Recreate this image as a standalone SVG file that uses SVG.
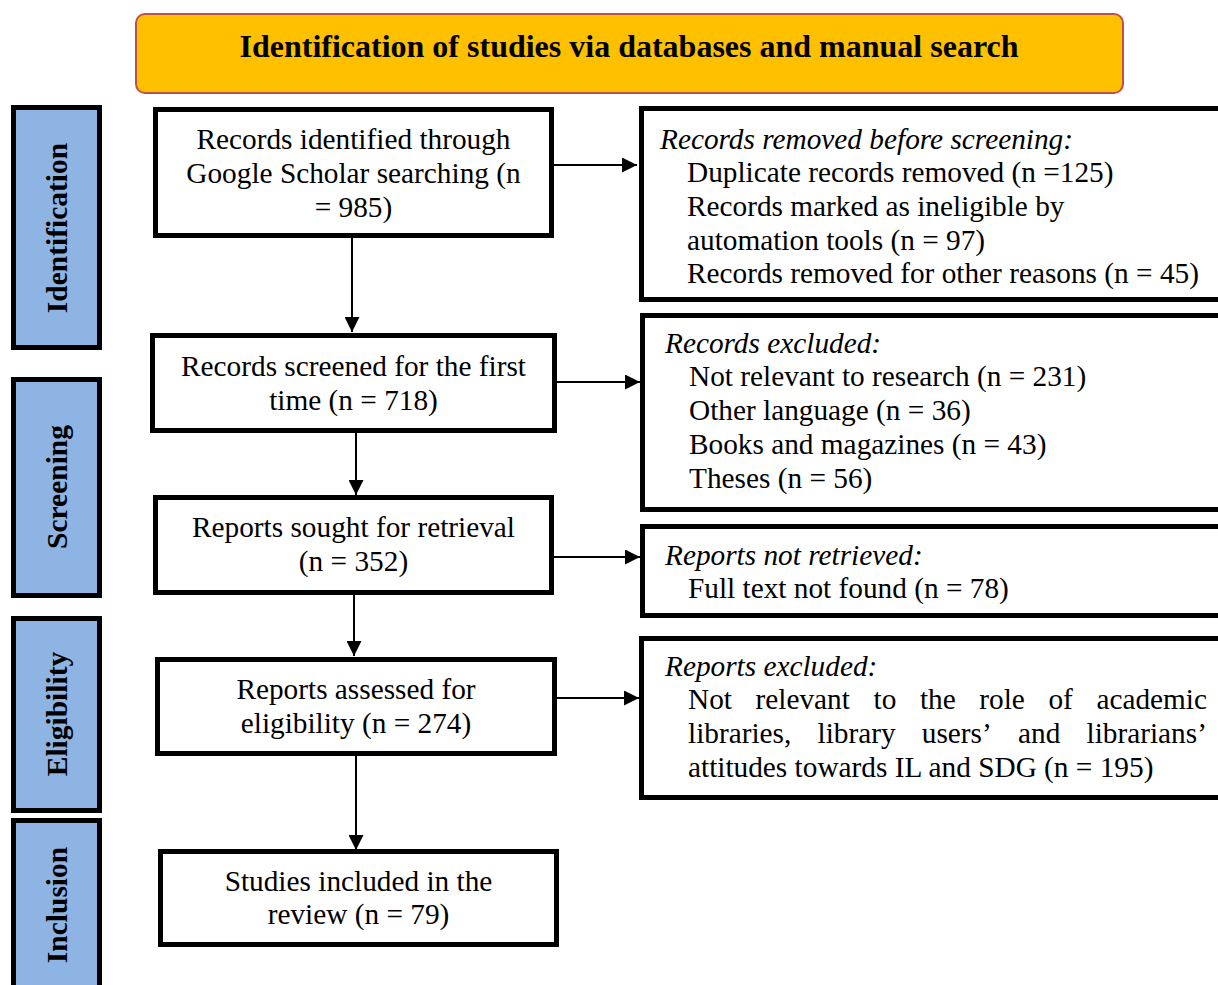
<svg xmlns="http://www.w3.org/2000/svg" width="1218" height="985" viewBox="0 0 1218 985">
<defs>
<marker id="ah" viewBox="0 0 15 15" refX="15" refY="7.5" markerWidth="15" markerHeight="15" markerUnits="userSpaceOnUse" orient="auto">
<path d="M0,0 L15,7.5 L0,15 Z" fill="#000"/>
</marker>
<style>
.box{fill:#fff;stroke:#000;stroke-width:5}
.side{fill:#8EB4E3;stroke:#000;stroke-width:5}
.t{font-family:"Liberation Serif","Times New Roman",serif;font-size:29.3px;fill:#000}
.c{text-anchor:middle}
.i{font-style:italic}
.b{font-weight:bold}
.sl{font-family:"Liberation Serif","Times New Roman",serif;font-size:29.5px;font-weight:bold;text-anchor:middle;fill:#000}
.ln{stroke:#000;stroke-width:2;fill:none;marker-end:url(#ah)}
</style>
</defs>
<rect width="1218" height="985" fill="#fff"/>

<g id="header">
<rect x="136" y="14" width="987" height="79" rx="9" ry="9" fill="#FFC000" stroke="#C0504D" stroke-width="2"/>
<text class="t b c" x="629" y="57" style="font-size:32px">Identification of studies via databases and manual search</text>
</g>

<g id="side-identification">
<rect class="side" x="13.5" y="107.5" width="86" height="240"/>
<text class="sl" transform="translate(67,228) rotate(-90)">Identification</text>
</g>
<g id="side-screening">
<rect class="side" x="13.5" y="379.5" width="86" height="216"/>
<text class="sl" transform="translate(67,487) rotate(-90)">Screening</text>
</g>
<g id="side-eligibility">
<rect class="side" x="13.5" y="618.5" width="86" height="192"/>
<text class="sl" transform="translate(67,714) rotate(-90)">Eligibility</text>
</g>
<g id="side-inclusion">
<rect class="side" x="13.5" y="820.5" width="86" height="180"/>
<text class="sl" transform="translate(67,905) rotate(-90)">Inclusion</text>
</g>

<g id="box-identified">
<rect class="box" x="155.5" y="109.5" width="396" height="126"/>
<text class="t c" x="353.5" y="149">Records identified through</text>
<text class="t c" x="353.5" y="183">Google Scholar searching (n</text>
<text class="t c" x="353.5" y="217">= 985)</text>
</g>
<g id="box-screened">
<rect class="box" x="152.5" y="335.5" width="402" height="95"/>
<text class="t c" x="353.5" y="376">Records screened for the first</text>
<text class="t c" x="353.5" y="410">time (n = 718)</text>
</g>
<g id="box-sought">
<rect class="box" x="155.5" y="497.5" width="396" height="95"/>
<text class="t c" x="353.5" y="537">Reports sought for retrieval</text>
<text class="t c" x="353.5" y="571">(n = 352)</text>
</g>
<g id="box-assessed">
<rect class="box" x="157.5" y="659.5" width="397" height="94"/>
<text class="t c" x="356" y="699">Reports assessed for</text>
<text class="t c" x="356" y="733">eligibility (n = 274)</text>
</g>
<g id="box-included">
<rect class="box" x="160.5" y="851.5" width="396" height="93"/>
<text class="t c" x="358.5" y="891">Studies included in the</text>
<text class="t c" x="358.5" y="924">review (n = 79)</text>
</g>

<g id="box-removed">
<rect class="box" x="641.5" y="108.5" width="600" height="191"/>
<text class="t i" x="660" y="149">Records removed before screening:</text>
<text class="t" x="687" y="182">Duplicate records removed (n =125)</text>
<text class="t" x="687" y="216">Records marked as ineligible by</text>
<text class="t" x="687" y="250">automation tools (n = 97)</text>
<text class="t" x="687" y="283">Records removed for other reasons (n = 45)</text>
</g>
<g id="box-excluded">
<rect class="box" x="642.5" y="315.5" width="600" height="194"/>
<text class="t i" x="665" y="353">Records excluded:</text>
<text class="t" x="689" y="386">Not relevant to research (n = 231)</text>
<text class="t" x="689" y="420">Other language (n = 36)</text>
<text class="t" x="689" y="454">Books and magazines (n = 43)</text>
<text class="t" x="689" y="488">Theses (n = 56)</text>
</g>
<g id="box-not-retrieved">
<rect class="box" x="642.5" y="526.5" width="600" height="89"/>
<text class="t i" x="665" y="565">Reports not retrieved:</text>
<text class="t" x="688" y="598">Full text not found (n = 78)</text>
</g>
<g id="box-reports-excluded">
<rect class="box" x="641.5" y="638.5" width="600" height="159"/>
<text class="t i" x="665" y="676">Reports excluded:</text>
<text class="t" y="709"><tspan x="688">Not</tspan><tspan x="755.5">relevant</tspan><tspan x="873.5">to</tspan><tspan x="919.9">the</tspan><tspan x="979.3">role</tspan><tspan x="1048.4">of</tspan><tspan x="1096.4">academic</tspan></text>
<text class="t" y="743"><tspan x="688">libraries,</tspan><tspan x="817.5">library</tspan><tspan x="921.8">users’</tspan><tspan x="1018">and</tspan><tspan x="1086.5">librarians’</tspan></text>
<text class="t" x="688" y="777">attitudes towards IL and SDG (n = 195)</text>
</g>

<g id="connectors">
<line class="ln" x1="352" y1="238" x2="352" y2="332"/>
<line class="ln" x1="356" y1="433" x2="356" y2="495"/>
<line class="ln" x1="354" y1="595" x2="354" y2="656"/>
<line class="ln" x1="356" y1="756" x2="356" y2="850"/>
<line class="ln" x1="554" y1="165" x2="637" y2="165"/>
<line class="ln" x1="557" y1="382" x2="640" y2="382"/>
<line class="ln" x1="554" y1="557" x2="640" y2="557"/>
<line class="ln" x1="557" y1="698" x2="639" y2="698"/>
</g>
</svg>
